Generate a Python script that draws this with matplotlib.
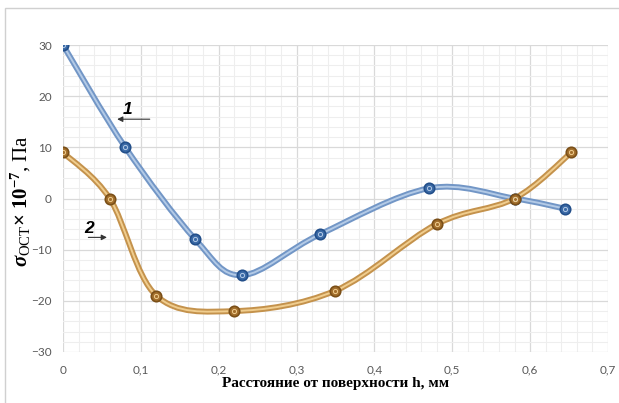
import numpy as np
import matplotlib
matplotlib.use("Agg")
import matplotlib.pyplot as plt
from matplotlib.path import Path
from matplotlib.patches import PathPatch, Rectangle

# Data
x1 = [0.0, 0.08, 0.17, 0.23, 0.33, 0.47, 0.58, 0.645]
y1 = [30, 10, -8, -15, -7, 2, 0, -2]
x2 = [0.0, 0.06, 0.12, 0.22, 0.35, 0.48, 0.58, 0.653]
y2 = [9, 0, -19, -22, -18, -5, 0, 9]
xticks = [0, 0.1, 0.2, 0.3, 0.4, 0.5, 0.6, 0.7]
xticklabels = ["0", "0,1", "0,2", "0,3", "0,4", "0,5", "0,6", "0,7"]
yticks = [-30, -20, -10, 0, 10, 20, 30]

plt.rcParams['mathtext.fontset'] = 'custom'
plt.rcParams['mathtext.rm'] = 'Liberation Serif'
plt.rcParams['mathtext.it'] = 'Liberation Serif:italic'
plt.rcParams['mathtext.bf'] = 'Liberation Serif:bold'
plt.rcParams['mathtext.bfit'] = 'Liberation Serif:italic:bold'

fig = plt.figure(figsize=(6.19, 4.03), dpi=100)
ax = fig.add_axes([63/619, 1-352/403, (608-63)/619, (352-45)/403])

# chart frame
fig.patches.append(Rectangle((5/619, -0.1), 1.2, 1-8/403+0.1, transform=fig.transFigure,
                             fill=False, edgecolor='#d0d0d0', lw=1.0, zorder=0))


def smooth_path(xs, ys):
    pts = np.column_stack([xs, ys]).astype(float)
    n = len(pts)
    verts = [pts[0]]
    codes = [Path.MOVETO]
    for i in range(n - 1):
        p0 = pts[i - 1] if i > 0 else pts[i]
        p1 = pts[i]
        p2 = pts[i + 1]
        p3 = pts[i + 2] if i + 2 < n else pts[i + 1]
        c1 = p1 + (p2 - p0) / 6.0
        c2 = p2 - (p3 - p1) / 6.0
        verts += [c1, c2, p2]
        codes += [Path.CURVE4] * 3
    return Path(verts, codes)


def draw_series(xs, ys, outer, inner, mface, medge):
    p = smooth_path(xs, ys)
    ax.add_patch(PathPatch(p, fill=False, edgecolor=outer, lw=4.2, capstyle='round', zorder=3))
    ax.add_patch(PathPatch(p, fill=False, edgecolor=inner, lw=1.4, capstyle='round', zorder=4))
    ax.plot(xs, ys, 'o', ms=7.5, mfc=mface, mec=medge, mew=1.2, zorder=5)
    ax.plot(xs, ys, 'o', ms=3.0, mfc='none', mec=inner, mew=0.7, zorder=6)


draw_series(x1, y1, '#7296c6', '#b3cae6', '#3b6aa6', '#234f8a')
draw_series(x2, y2, '#c4924c', '#f0cd8e', '#a36f2c', '#7a4f18')

ax.set_xlim(0, 0.7)
ax.set_ylim(-30, 30)
ax.set_xticks(xticks)
ax.set_xticklabels(xticklabels)
ax.set_yticks(yticks)
ax.set_xticks(np.arange(0, 0.7001, 0.02), minor=True)
ax.set_yticks(np.arange(-30, 30.01, 2), minor=True)
ax.grid(True, which='major', color='#d9d9d9', lw=0.9)
ax.grid(True, which='minor', color='#eeeeee', lw=0.8)
ax.set_axisbelow(True)
for s in ax.spines.values():
    s.set_visible(False)
ax.tick_params(which='both', length=0)
ax.tick_params(axis='both', labelsize=8.5, labelcolor='#595959', labelfontfamily='Lato')
ax.tick_params(axis='x', pad=9)
ax.tick_params(axis='y', pad=8)

ax.set_xlabel('Расстояние от поверхности h, мм', family='Liberation Serif',
              fontweight='bold', fontsize=11, labelpad=1, color='black')
ax.set_ylabel(r'$\mathbfit{\sigma}_{\mathrm{ОСТ}}\mathbf{\times\ 10^{-7}}$, Па',
              family='Liberation Serif', fontsize=15, color='black')
ax.yaxis.set_label_coords(-0.055, 0.49)

# annotations
ax.text(0.0835, 17.3, '1', fontsize=12.5, fontweight='bold', fontstyle='italic',
        ha='center', va='center', family='Liberation Sans')
ax.annotate('', xy=(0.066, 15.5), xytext=(0.115, 15.5),
            arrowprops=dict(arrowstyle='-|>', color='#333333', lw=0.8, mutation_scale=8))
ax.text(0.034, -5.8, '2', fontsize=12.5, fontweight='bold', fontstyle='italic',
        ha='center', va='center', family='Liberation Sans')
ax.annotate('', xy=(0.060, -7.6), xytext=(0.029, -7.6),
            arrowprops=dict(arrowstyle='-|>', color='#333333', lw=0.8, mutation_scale=8))

fig.savefig('out.png', dpi=100)
